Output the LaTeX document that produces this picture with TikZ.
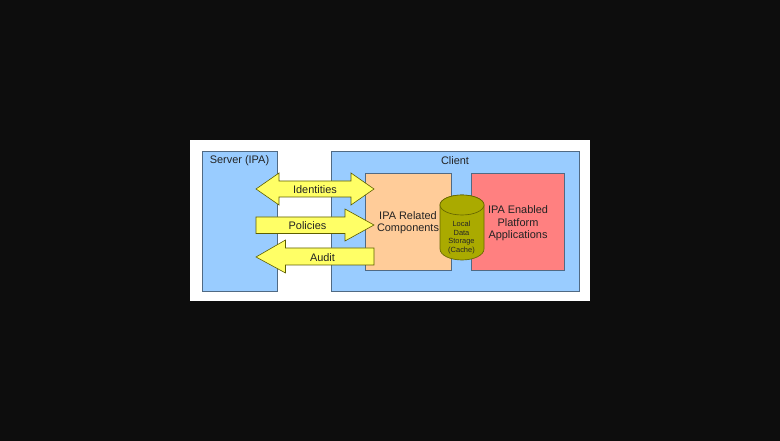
\documentclass[tikz,border=0pt]{standalone}
\usepackage{fontspec}
\setmainfont{Liberation Sans}
\usetikzlibrary{calc,positioning}
\definecolor{ipablack}{RGB}{13,13,13}
\definecolor{ipaline}{RGB}{80,106,132}
\definecolor{ipablue}{RGB}{153,204,255}
\definecolor{ipaorange}{RGB}{255,204,153}
\definecolor{ipared}{RGB}{255,128,128}
\definecolor{ipayellow}{RGB}{255,255,102}
\definecolor{ipaolive}{RGB}{170,170,0}
\definecolor{ipatext}{RGB}{35,35,35}
\tikzset{
  ipabox/.style={draw=ipaline,line width=0.5pt,inner sep=0pt,anchor=south west},
  ipaarrow/.style={draw=black!45!ipaolive,line width=0.45pt,fill=ipayellow},
  ipadrum/.style={draw=black!40!ipaolive,line width=0.5pt,fill=ipaolive},
  ipalabel/.style={font=\fontsize{8.2}{9.2}\selectfont,text=ipatext,align=center,inner sep=0pt},
  ipacache/.style={font=\fontsize{5.6}{6.4}\selectfont,text=black!85,align=center,inner sep=0pt}
}
\begin{document}
\begin{tikzpicture}[x=0.75pt,y=0.75pt]
    \useasboundingbox (0,0) rectangle (780,441);
    \fill[ipablack] (0,0) rectangle (780,441);
    \fill[white] (190,140) rectangle (590,301);
    % boxes
    \node[ipabox,fill=ipablue,minimum width=56.6pt,minimum height=104.6pt] (server) at (202,149.5) {};
    \node[ipabox,fill=ipablue,minimum width=186pt,minimum height=104.6pt] (client) at (331,149.5) {};
    \node[ipabox,fill=ipaorange,minimum width=64.5pt,minimum height=72.6pt] (related) at (365,170.7) {};
    \node[ipabox,fill=ipared,minimum width=69.8pt,minimum height=72.6pt] (enabled) at (471,170.7) {};
    \node[ipalabel] at (239.5,280) {Server (IPA)};
    \node[ipalabel] at (455,280) {Client};
    \node[ipalabel] at (408,218) {IPA Related\\Components};
    \node[ipalabel] at (518,217.7) {IPA Enabled\\Platform\\Applications};
    % arrows
    \draw[ipaarrow] (256,252)--(279,268)--(279,260)--(351,260)--(351,268)--(374,252)--(351,236)--(351,244)--(279,244)--(279,236)--cycle;
    \node[ipalabel] (identities) at (315,251) {Identities};
    \draw[ipaarrow] (256,224)--(345,224)--(345,232)--(374,216)--(345,200)--(345,207.5)--(256,207.5)--cycle;
    \node[ipalabel] (policies) at (307.5,215) {Policies};
    \draw[ipaarrow] (256,184)--(285.5,201)--(285.5,193)--(374,193)--(374,176)--(285.5,176)--(285.5,168)--cycle;
    \node[ipalabel] (audit) at (322.5,183.5) {Audit};
    % local cache
    \draw[ipadrum] (440,236) -- (440,192) arc (180:360:22 and 11) -- (484,236) arc (0:180:22 and 10) -- cycle;
    \draw[ipadrum] (462,236) ellipse (22 and 10);
    \node[ipacache] (cache) at (461.5,203.5) {Local\\Data\\Storage\\(Cache)};
  \end{tikzpicture}
\end{document}
